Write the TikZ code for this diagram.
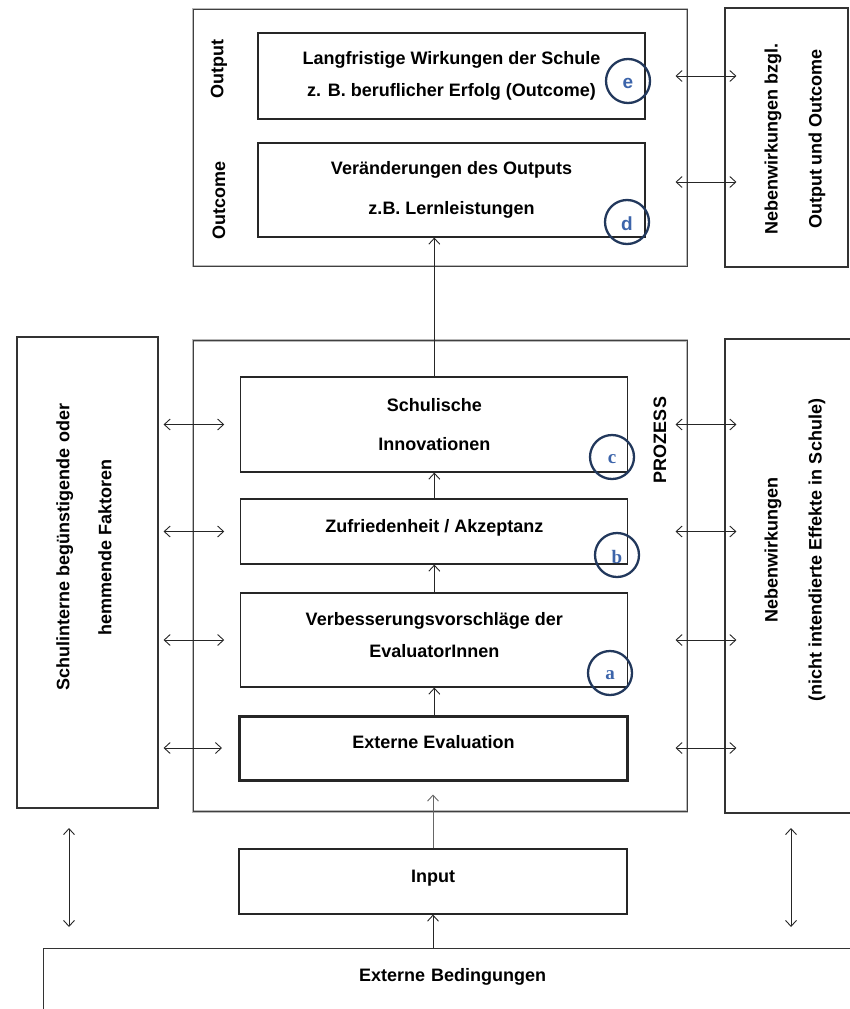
\documentclass[tikz,border=0pt]{standalone}
\usepackage{fontspec}
\setmainfont{Liberation Sans}
\newfontfamily\letterserif{Liberation Serif}
\usetikzlibrary{arrows.meta}
\definecolor{navy}{RGB}{34,56,92}
\definecolor{letterblue}{RGB}{60,100,170}
\begin{document}
\begin{tikzpicture}[x=1pt,y=-1pt,
  >={Straight Barb[length=6pt,width=11pt]},
  every node/.style={font=\bfseries\fontsize{18}{22}\selectfont, inner sep=0pt},
  frame/.style={draw=gray!55, double=black!75, double distance=0.8pt, line width=1pt},
  box/.style={draw=black!85, line width=1.1pt, align=center},
  sidebox/.style={draw=black!80, line width=1.1pt},
  circ/.style={circle, draw=navy, line width=2.3pt, minimum size=44pt, text=letterblue,
               text height=14pt, text depth=0pt},
  sansletter/.style={font=\bfseries\fontsize{19}{19}\selectfont},
  serifletter/.style={font=\letterserif\bfseries\fontsize{19}{19}\selectfont},
  arr/.style={->, line width=0.9pt, draw=black!85},
  darr/.style={<->, line width=0.9pt, draw=black!85},
  vlabel/.style={rotate=90, align=center}
]
\useasboundingbox (0,0) rectangle (850,1009);

% ---------- top block ----------
\node[frame, minimum width=494pt, minimum height=257pt] (topf) at (440,137.5) {};
\node[box, minimum width=387pt, minimum height=86pt,
      font=\bfseries\fontsize{18}{32}\selectfont] (outp) at (451.5,76)
  {Langfristige Wirkungen der Schule\\z. B. beruflicher Erfolg (Outcome)};
\node[box, minimum width=387pt, minimum height=94pt,
      font=\bfseries\fontsize{18}{40}\selectfont] (outc) at (451.5,190)
  {Veränderungen des Outputs\\z.B. Lernleistungen};
\node[vlabel] (lout) at (219,69) {Output};
\node[vlabel] (loutc) at (219,200) {Outcome};
\node[circ, sansletter] (ce) at (628,81) {e};
\node[circ, sansletter, text height=16pt] (cd) at (627,222) {d};

\node[sidebox, minimum width=123pt, minimum height=259pt] (rtop) at (786.5,137.5) {};
\node[vlabel, font=\bfseries\fontsize{18}{44}\selectfont] (rtoptext) at (795,139)
  {Nebenwirkungen bzgl.\\Output und Outcome};

% ---------- middle block ----------
\node[frame, minimum width=494pt, minimum height=471pt] (midf) at (440,576) {};
\node[box, minimum width=387pt, minimum height=95pt,
      font=\bfseries\fontsize{18}{39}\selectfont] (inno) at (434.3,424.5)
  {Schulische\\Innovationen};
\node[box, minimum width=387pt, minimum height=65pt, text height=13pt, text depth=11pt] (zuf) at (434.3,531.5)
  {Zufriedenheit / Akzeptanz};
\node[box, minimum width=387pt, minimum height=94pt, text height=45pt, text depth=11pt,
      font=\bfseries\fontsize{18}{32}\selectfont] (ver) at (434.3,640)
  {Verbesserungsvorschläge der\\EvaluatorInnen};
\node[box, line width=3pt, minimum width=388pt, minimum height=64pt, text height=13pt, text depth=12pt] (ev) at (433.5,748)
  {Externe Evaluation};
\node[vlabel] (proz) at (660,440) {PROZESS};

\node[circ, serifletter, text height=12pt] (cc) at (612,457) {c};
\node[circ, serifletter, text height=16pt] (cb) at (617,555) {b};
\node[circ, serifletter, text height=12pt] (ca) at (610,673) {a};

\node[sidebox, minimum width=141pt, minimum height=471pt] (lf) at (87.5,572.5) {};
\node[vlabel, font=\bfseries\fontsize{18}{42}\selectfont] (lftext) at (84,547)
  {Schulinterne begünstigende oder\\hemmende Faktoren};

\node[sidebox, minimum width=150pt, minimum height=474pt] (rf) at (800,576) {};
\node[vlabel, font=\bfseries\fontsize{18}{44}\selectfont] (rftext) at (795,550)
  {Nebenwirkungen\\(nicht intendierte Effekte in Schule)};

% ---------- bottom ----------
\node[box, minimum width=388pt, minimum height=65pt, text height=13pt, text depth=11pt] (inp) at (433,881.5) {Input};
\node[sidebox, anchor=north west, text width=818pt, align=center, inner ysep=20pt,
      text height=13pt, text depth=40pt] (ext) at (43,948) {Externe Bedingungen};

% ---------- connectors ----------
\draw[arr] (inno.north) -- (inno.north |- outc.south);
\draw[arr] (zuf.north) -- (inno.south);
\draw[arr] (ver.north) -- (zuf.south);
\draw[arr] (ev.north -| ver.south) -- (ver.south);
\draw[arr, draw=black!60] (inp.north) -- ([yshift=-13pt]inp.north |- ev.south);
\draw[arr] (inp.south |- ext.north) -- (inp.south);

\draw[darr] ([xshift=-12pt]topf.east |- outp.east) -- ([xshift=12pt]rtop.west |- outp.east);
\draw[darr] ([xshift=-12pt,yshift=8pt]topf.east |- outc.east) -- ([xshift=12pt,yshift=8pt]rtop.west |- outc.east);

\foreach \n in {inno,zuf,ver,ev}{
  \draw[darr] ([xshift=5pt]lf.east |- \n.west) -- ([xshift=-16pt]\n.west);
  \draw[darr] ([xshift=-12pt]midf.east |- \n.east) -- ([xshift=12pt]rf.west |- \n.east);
}

\coordinate (lv1) at (69,828);
\coordinate (lv2) at (69,927);
\coordinate (rv1) at (791,828);
\coordinate (rv2) at (791,927);
\draw[darr] (lv1) -- (lv2);
\draw[darr] (rv1) -- (rv2);
\end{tikzpicture}
\end{document}
